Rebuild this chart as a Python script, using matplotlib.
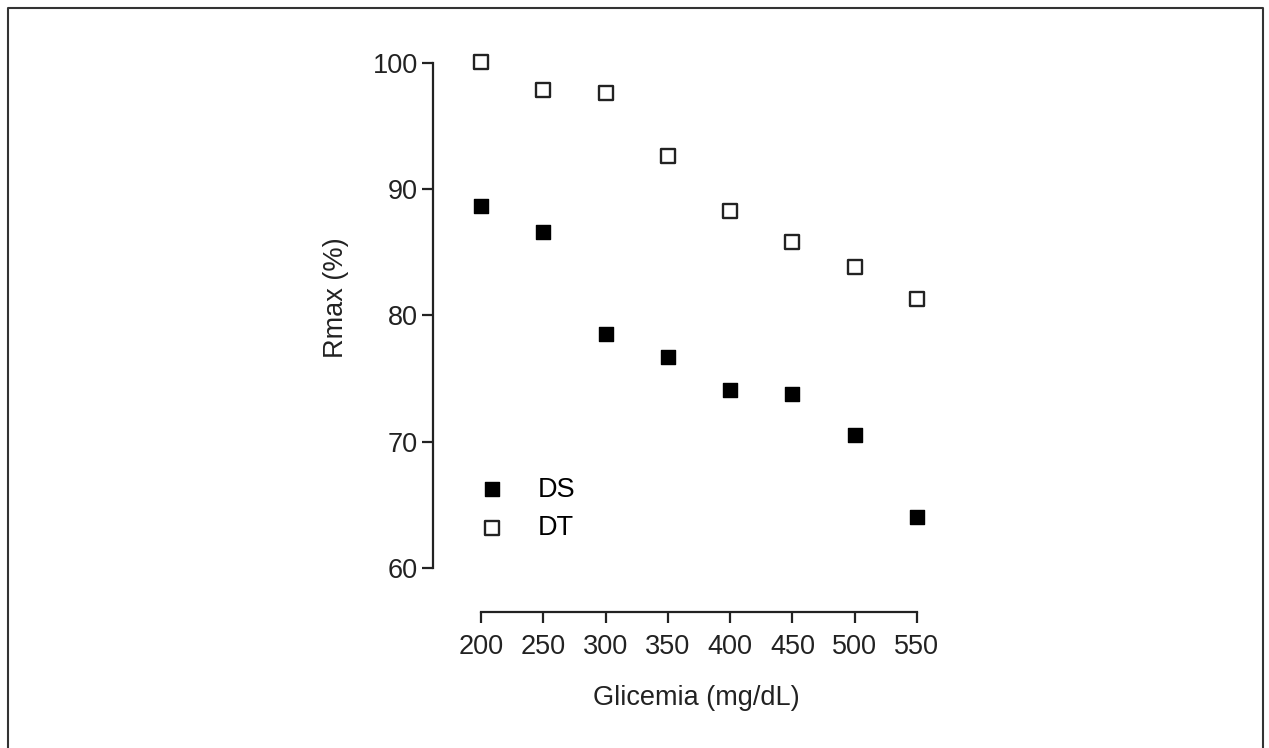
import matplotlib
matplotlib.use('Agg')
from matplotlib import pyplot as plt
from matplotlib.lines import Line2D

plt.rcParams['font.family'] = ['Liberation Sans', 'DejaVu Sans']

glicemia = [200, 250, 300, 350, 400, 450, 500, 550]
ds = [88.7, 86.6, 78.5, 76.7, 74.1, 73.8, 70.5, 64.0]
dt = [100.1, 97.9, 97.6, 92.6, 88.3, 85.8, 83.8, 81.3]
xticks = [200, 250, 300, 350, 400, 450, 500, 550]
yticks = [60, 70, 80, 90, 100]

W, H = 1269, 748
fig = plt.figure(figsize=(W / 100, H / 100), dpi=100)
# axes box in pixels: left 433, right 940, top 50, bottom 612
ax = fig.add_axes([433 / W, 1 - 612 / H, (940 - 433) / W, (612 - 50) / H])

ax.scatter(glicemia, ds, marker='s', s=115, c='black', edgecolors='black', linewidths=1, label='DS', zorder=3)
ax.scatter(glicemia, dt, marker='s', s=105, facecolors='white', edgecolors='#222222', linewidths=1.7, label='DT', zorder=3)

ax.set_xlim(161.5, 568.5)
ax.set_ylim(56.5, 101.03)
ax.set_xticks(xticks)
ax.set_yticks(yticks)

for s in ['top', 'right']:
    ax.spines[s].set_visible(False)
ax.spines['left'].set_bounds(60, 100)
ax.spines['bottom'].set_bounds(200, 550)
for s in ['left', 'bottom']:
    ax.spines[s].set_linewidth(1.6)
    ax.spines[s].set_color('#222222')

ax.tick_params(axis='both', length=8, width=1.6, color='#222222', labelsize=19.5, labelcolor='#222222')
ax.tick_params(axis='y', pad=3)
ax.tick_params(axis='x', pad=8)

ax.set_xlabel('Glicemia (mg/dL)', fontsize=19.5, color='#222222')
ax.set_ylabel('Rmax (%)', fontsize=19.5, color='#222222')
ax.xaxis.set_label_coords(0.519, -0.13)
ax.yaxis.set_label_coords(-0.165, 0.56)

ax.legend(loc='upper left', bbox_to_anchor=(0.089, 0.241), frameon=False, fontsize=19.5,
          handlelength=1.0, handletextpad=1.2, labelspacing=0.45, borderaxespad=0, borderpad=0)

# outer frame (left, top, right)
fig.add_artist(Line2D([8 / W, 8 / W, 1263 / W, 1263 / W], [0, 1 - 8 / H, 1 - 8 / H, 0],
                      transform=fig.transFigure, color='#333333', linewidth=1.5))

fig.savefig('out.png', dpi=100)
